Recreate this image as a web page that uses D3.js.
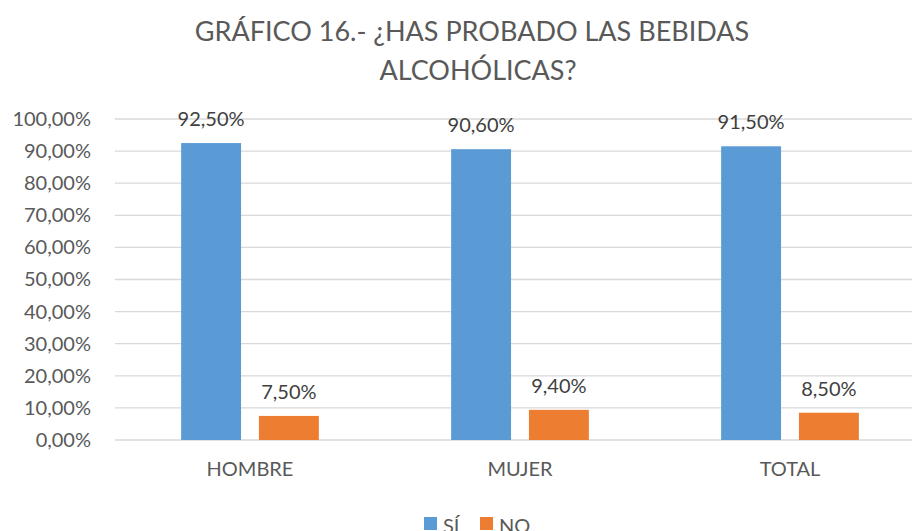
<!DOCTYPE html>
<html>
<head>
<meta charset="utf-8">
<script src="https://cdn.jsdelivr.net/npm/d3@7"></script>
<style>
  body { margin: 0; background: #fff; }
  svg { display: block; font-family: Lato, "Liberation Sans", sans-serif; }
</style>
</head>
<body>
<div id="chart"></div>
<script>
const categories = ['HOMBRE', 'MUJER', 'TOTAL'];
const series = ['SÍ', 'NO'];
const si = [92.5, 90.6, 91.5];
const no = [7.5, 9.4, 8.5];
const yTicks = [0, 10, 20, 30, 40, 50, 60, 70, 80, 90, 100];
const colors = ['#5B9BD5', '#ED7D31'];

const width = 912, height = 531;
const margin = { top: 119, right: -13, bottom: 91, left: 115 };

const svg = d3.select('#chart').append('svg')
  .attr('width', width)
  .attr('height', height);

const fmt = v => d3.format('.2f')(v).replace('.', ',') + '%';

const x0 = d3.scaleBand()
  .domain(categories)
  .range([margin.left, width - margin.right])
  .paddingInner(0.49)
  .paddingOuter(0.245);

const x1 = d3.scaleBand()
  .domain(series)
  .range([0, x0.bandwidth()])
  .paddingInner(0.23);

const y = d3.scaleLinear()
  .domain([0, 100])
  .range([height - margin.bottom, margin.top]);

// gridlines
svg.append('g')
  .selectAll('line')
  .data(yTicks)
  .join('line')
  .attr('x1', margin.left)
  .attr('x2', width)
  .attr('y1', d => y(d))
  .attr('y2', d => y(d))
  .attr('stroke', '#d9d9d9')
  .attr('stroke-width', 1.3);

// y axis labels
const yAxis = svg.append('g')
  .attr('transform', `translate(${margin.left - 24},0)`)
  .call(d3.axisLeft(y).tickValues(yTicks).tickFormat(fmt).tickSize(0).tickPadding(0));
yAxis.select('.domain').remove();
yAxis.selectAll('text')
  .attr('fill', '#595959')
  .style('font-size', '20px')
  .style('font-family', 'Lato, sans-serif');

// x axis labels
const xAxis = svg.append('g')
  .attr('transform', `translate(0,${height - margin.bottom})`)
  .call(d3.axisBottom(x0).tickSize(0).tickPadding(22));
xAxis.select('.domain').remove();
xAxis.selectAll('text')
  .attr('fill', '#595959')
  .style('font-size', '20px')
  .style('font-family', 'Lato, sans-serif');

const rows = categories.map((c, i) => ({ cat: c, vals: [si[i], no[i]] }));

const groups = svg.append('g')
  .selectAll('g')
  .data(rows)
  .join('g')
  .attr('transform', d => `translate(${x0(d.cat)},0)`);

groups.selectAll('rect')
  .data(d => d.vals.map((v, j) => ({ s: series[j], v, j })))
  .join('rect')
  .attr('x', d => x1(d.s))
  .attr('width', x1.bandwidth())
  .attr('y', d => y(d.v))
  .attr('height', d => y(0) - y(d.v))
  .attr('fill', d => colors[d.j]);

groups.selectAll('text')
  .data(d => d.vals.map((v, j) => ({ s: series[j], v, j })))
  .join('text')
  .attr('x', d => x1(d.s) + x1.bandwidth() / 2)
  .attr('y', d => y(d.v) - 17)
  .attr('text-anchor', 'middle')
  .attr('fill', '#404040')
  .style('font-size', '20px')
  .text(d => fmt(d.v));

// title
const title = svg.append('text')
  .attr('text-anchor', 'middle')
  .attr('fill', '#595959')
  .style('font-size', '27px');
title.append('tspan').attr('x', 472).attr('y', 41).text('GRÁFICO 16.- ¿HAS PROBADO LAS BEBIDAS');
title.append('tspan').attr('x', 478).attr('y', 80).text('ALCOHÓLICAS?');

// legend
const legend = svg.append('g')
  .selectAll('g')
  .data(series)
  .join('g')
  .attr('transform', (d, i) => `translate(${424 + i * 56},517)`);
legend.append('rect')
  .attr('width', 13)
  .attr('height', 13)
  .attr('fill', (d, i) => colors[i]);
legend.append('text')
  .attr('x', 19)
  .attr('y', 16)
  .attr('fill', '#595959')
  .style('font-size', '20px')
  .text(d => d);
</script>
</body>
</html>
